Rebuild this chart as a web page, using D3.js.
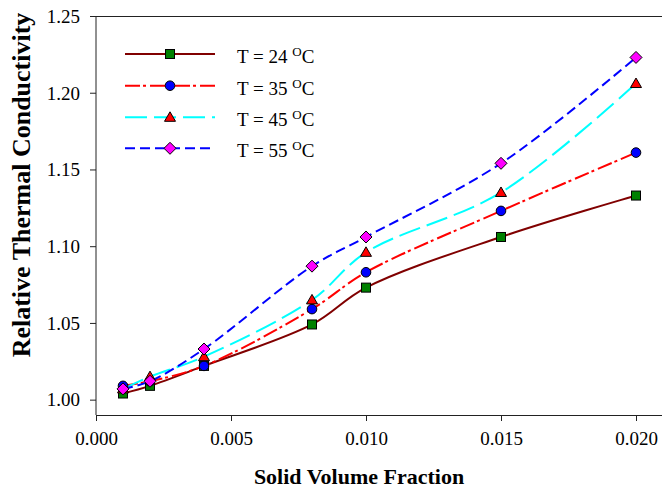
<!DOCTYPE html>
<html><head><meta charset="utf-8">
<script src="https://cdn.jsdelivr.net/npm/d3@7"></script>
<style>
body{margin:0;background:#fff;}
text{font-family:"Liberation Serif","Times New Roman",serif;fill:#000;}
</style></head>
<body><svg id="c" width="662" height="488"></svg>
<script>
const fractions = [0.001, 0.002, 0.004, 0.008, 0.010, 0.015, 0.020];
const seriesNames = ["24", "35", "45", "55"];
const t24 = [1.004, 1.009, 1.022, 1.049, 1.073, 1.106, 1.133];
const t35 = [1.009, 1.012, 1.022, 1.059, 1.083, 1.123, 1.161];
const t45 = [1.007, 1.015, 1.028, 1.065, 1.096, 1.135, 1.206];
const t55 = [1.007, 1.012, 1.033, 1.087, 1.106, 1.154, 1.223];
const xTicks = [0.000, 0.005, 0.010, 0.015, 0.020];
const yTicks = [1.00, 1.05, 1.10, 1.15, 1.20, 1.25];

const styles = [
  {color:"#800000", dash:null, marker:"square", fill:"#008000"},
  {color:"#ff0000", dash:"15,3,3,4", marker:"circle", fill:"#0000ff"},
  {color:"#00ffff", dash:"22,7", marker:"triangle", fill:"#ff0000"},
  {color:"#0000ff", dash:"10,5", marker:"diamond", fill:"#ff00ff"}
];
const values = [t24, t35, t45, t55];

const svg = d3.select("#c");
const x = d3.scaleLinear().domain([0, 0.021]).range([96, 663]);
const y = d3.scaleLinear().domain([0.99, 1.25]).range([415, 16]);

// frame
svg.append("line").attr("x1",96).attr("x2",663).attr("y1",16.5).attr("y2",16.5).attr("stroke","#222");
const xa = svg.append("g").attr("transform","translate(0,415)")
  .call(d3.axisBottom(x).tickValues(xTicks).tickFormat(d3.format(".3f")).tickSize(6).tickSizeOuter(0));
const ya = svg.append("g").attr("transform","translate(96,0)")
  .call(d3.axisLeft(y).tickValues(yTicks).tickFormat(d3.format(".2f")).tickSize(6).tickSizeOuter(0));
[xa, ya].forEach(a => {
  a.select(".domain").attr("stroke","#222");
  a.selectAll(".tick line").attr("stroke","#222");
  a.selectAll("text").style("font-family","Liberation Serif").style("font-size","19px").attr("fill","#000");
});
xa.selectAll("text").attr("dy", null).attr("y", 30);
ya.selectAll("text").attr("x", -16).attr("dy","0.33em");
ya.select(".domain").attr("d","M0,415V16");

const line = d3.line().x(d=>x(d[0])).y(d=>y(d[1])).curve(d3.curveCatmullRom.alpha(0.5));

function marker(g, type, fill, cx, cy) {
  const s = "#000";
  if (type==="square") g.append("rect").attr("x",cx-4.5).attr("y",cy-4.5).attr("width",9).attr("height",9).attr("fill",fill).attr("stroke",s).attr("stroke-width",1);
  else if (type==="circle") g.append("circle").attr("cx",cx).attr("cy",cy).attr("r",4.8).attr("fill",fill).attr("stroke",s).attr("stroke-width",1);
  else if (type==="triangle") g.append("path").attr("d",`M${cx},${cy-5.5}L${cx+5.5},${cy+4}L${cx-5.5},${cy+4}Z`).attr("fill",fill).attr("stroke",s).attr("stroke-width",1);
  else g.append("path").attr("d",`M${cx},${cy-6}L${cx+6},${cy}L${cx},${cy+6}L${cx-6},${cy}Z`).attr("fill",fill).attr("stroke",s).attr("stroke-width",1);
}

values.forEach((vals, i) => {
  const st = styles[i];
  const pts = fractions.map((f,j)=>[f, vals[j]]);
  svg.append("path").attr("d", line(pts)).attr("fill","none").attr("stroke",st.color)
    .attr("stroke-width",2).attr("stroke-dasharray",st.dash);
});
values.forEach((vals, i) => {
  const st = styles[i];
  const g = svg.append("g");
  fractions.forEach((f,j)=> marker(g, st.marker, st.fill, x(f), y(vals[j])));
});

// legend
const legY = [54, 85.7, 117.3, 148.3];
seriesNames.forEach((n,i)=>{
  const st = styles[i];
  const g = svg.append("g");
  g.append("line").attr("x1",125).attr("x2",215).attr("y1",legY[i]).attr("y2",legY[i])
    .attr("stroke",st.color).attr("stroke-width",2).attr("stroke-dasharray",st.dash);
  marker(g, st.marker, st.fill, 170, legY[i]);
  const t = g.append("text").attr("x",237).attr("y",legY[i]+9).style("font-size","19px");
  t.append("tspan").text("T = " + n + " ");
  t.append("tspan").attr("dy",-7).style("font-size","13px").text("O");
  t.append("tspan").attr("dy",7).text("C");
});

// axis titles
svg.append("text").attr("x",359).attr("y",484).attr("text-anchor","middle")
  .style("font-size","22px").style("font-weight","bold").text("Solid Volume Fraction");
svg.append("text").attr("transform","translate(30,185) rotate(-90)").attr("text-anchor","middle")
  .style("font-size","26px").style("font-weight","bold").text("Relative Thermal Conductivity");
</script></body></html>
